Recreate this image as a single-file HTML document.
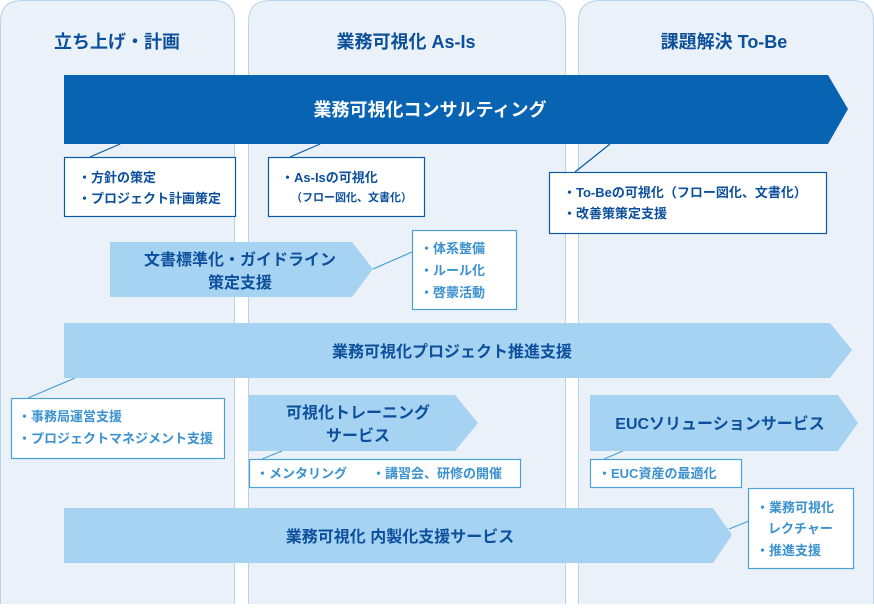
<!DOCTYPE html>
<html><head><meta charset="utf-8"><style>
body{margin:0;background:#fff}
svg text{font-family:"Liberation Sans","Noto Sans CJK JP",sans-serif;font-weight:bold}
</style></head><body>
<svg width="874" height="605" viewBox="0 0 874 605" xmlns="http://www.w3.org/2000/svg">
<g fill="#eaf1f8" stroke="#b7d3ec" stroke-width="1">
<path d="M0.5,604 V22 Q0.5,0.5 22,0.5 H213 Q234.5,0.5 234.5,22 V604"/>
<path d="M248.5,604 V22 Q248.5,0.5 270,0.5 H544 Q565.5,0.5 565.5,22 V604"/>
<path d="M578.5,604 V22 Q578.5,0.5 600,0.5 H852 Q873.5,0.5 873.5,22 V604"/>
</g>
<g fill="#0c4f9b" font-size="18" text-anchor="middle">
<text x="117" y="48">立ち上げ・計画</text>
<text x="406" y="48">業務可視化 As-Is</text>
<text x="724" y="48">課題解決 To-Be</text>
</g>
<polygon points="64,75 828,75 848,109 828,144 64,144" fill="#0863b3"/>
<text x="430" y="116" fill="#fff" font-size="18" text-anchor="middle">業務可視化コンサルティング</text>
<g stroke="#0c5aa6" stroke-width="1.2" fill="#fff">
<line x1="120" y1="144" x2="90" y2="157"/>
<line x1="320" y1="144" x2="290" y2="157"/>
<line x1="610" y1="144" x2="575" y2="172"/>
<rect x="64.5" y="157.5" width="171" height="59"/>
<rect x="268.5" y="157.5" width="156" height="59"/>
<rect x="549.5" y="172.5" width="277" height="61"/>
</g>
<g fill="#0c4f9b" font-size="13">
<text x="78" y="182">・方針の策定</text>
<text x="78" y="203">・プロジェクト計画策定</text>
<text x="281" y="182">・As-Isの可視化</text>
<text x="291" y="201" font-size="11">（フロー図化、文書化）</text>
<text x="563" y="197">・To-Beの可視化（フロー図化、文書化）</text>
<text x="563" y="218">・改善策策定支援</text>
</g>
<g fill="#a7d3f3">
<polygon points="110,242 352,242 373,269 352,297 110,297"/>
<polygon points="64,323 830,323 852,350 830,378 64,378"/>
<polygon points="249,395 455,395 478,423 455,451 249,451"/>
<polygon points="590,395 838,395 858,423 838,451 590,451"/>
<polygon points="64,508 713,508 732,535 713,563 64,563"/>
</g>
<g stroke="#4aa0d8" stroke-width="1.2" fill="#fff">
<line x1="373" y1="269" x2="412" y2="252"/>
<line x1="75" y1="378" x2="28" y2="398"/>
<line x1="282" y1="451" x2="262" y2="459"/>
<line x1="623" y1="451" x2="604" y2="459"/>
<line x1="729" y1="529" x2="749" y2="521"/>
<rect x="412.5" y="230.5" width="104" height="79"/>
<rect x="11.5" y="398.5" width="213" height="60"/>
<rect x="249.5" y="459.5" width="271" height="28"/>
<rect x="590.5" y="459.5" width="151" height="28"/>
<rect x="748.5" y="488.5" width="105" height="80"/>
</g>
<g fill="#0c4f9b" font-size="16" text-anchor="middle">
<text x="240" y="265">文書標準化・ガイドライン</text>
<text x="240" y="288">策定支援</text>
<text x="452" y="357">業務可視化プロジェクト推進支援</text>
<text x="358" y="418">可視化トレーニング</text>
<text x="358" y="441">サービス</text>
<text x="720" y="429">EUCソリューションサービス</text>
<text x="400" y="542">業務可視化 内製化支援サービス</text>
</g>
<g fill="#3b92cf" font-size="13">
<text x="420" y="253">・体系整備</text>
<text x="420" y="275">・ルール化</text>
<text x="420" y="297">・啓蒙活動</text>
<text x="18" y="421">・事務局運営支援</text>
<text x="18" y="443">・プロジェクトマネジメント支援</text>
<text x="256" y="478">・メンタリング</text>
<text x="372" y="478">・講習会、研修の開催</text>
<text x="598" y="478">・EUC資産の最適化</text>
<text x="756" y="512">・業務可視化</text>
<text x="768" y="533">レクチャー</text>
<text x="756" y="555">・推進支援</text>
</g>
</svg>
</body></html>
